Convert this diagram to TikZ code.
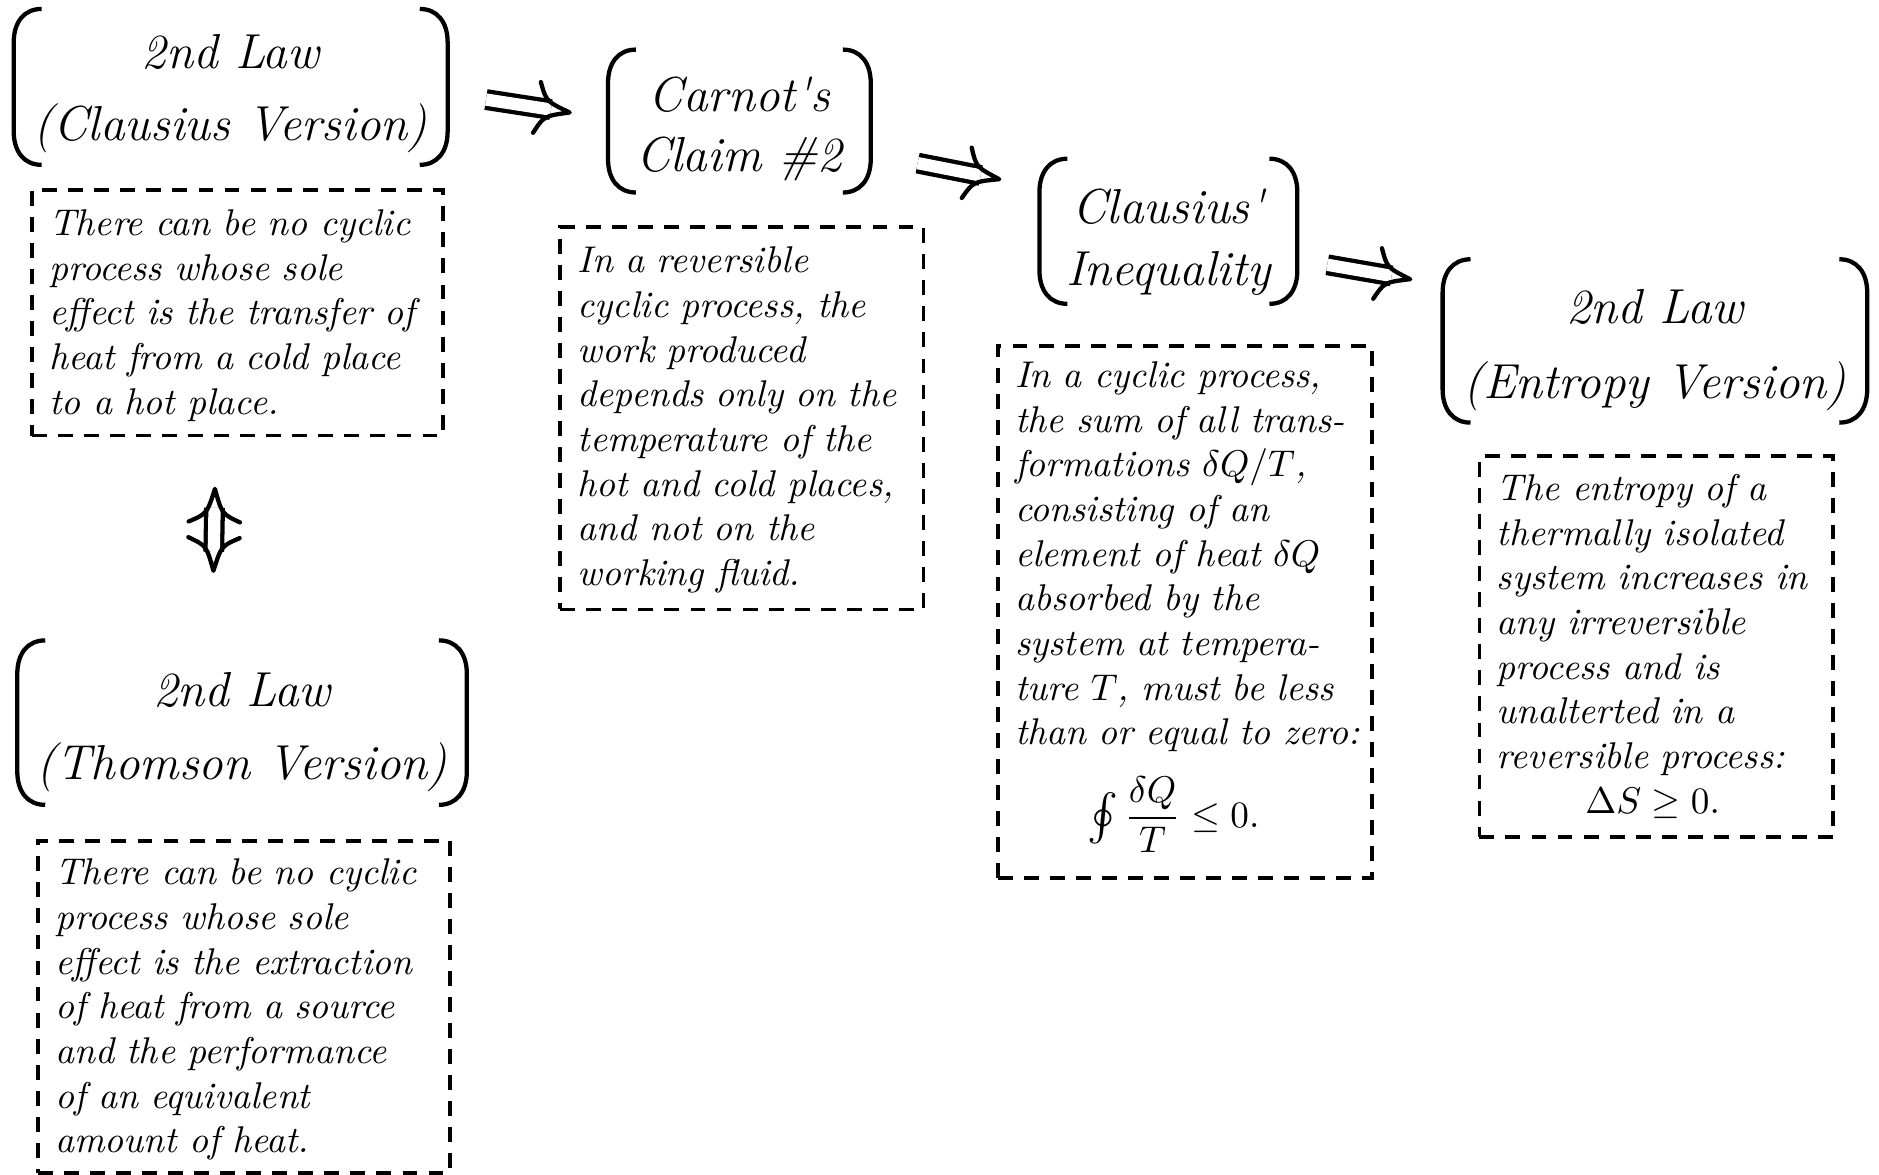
\documentclass[tikz,border=0pt]{standalone}
\usepackage{graphicx}
\usetikzlibrary{calc}

% Round brackets drawn around a header node, using its corner anchors
\newcommand\drawparens[1]{%
  \draw[paren]
    ([xshift=7.5pt]#1.north west)
      .. controls ([xshift=2.8pt]#1.north west) and ([yshift=-3.5pt]#1.north west) ..
    ([yshift=-9pt]#1.north west) -- ([yshift=9pt]#1.south west)
      .. controls ([yshift=3.5pt]#1.south west) and ([xshift=2.8pt]#1.south west) ..
    ([xshift=7.5pt]#1.south west);
  \draw[paren]
    ([xshift=-7.5pt]#1.north east)
      .. controls ([xshift=-2.8pt]#1.north east) and ([yshift=-3.5pt]#1.north east) ..
    ([yshift=-9pt]#1.north east) -- ([yshift=9pt]#1.south east)
      .. controls ([yshift=3.5pt]#1.south east) and ([xshift=-2.8pt]#1.south east) ..
    ([xshift=-7.5pt]#1.south east);
}
% curved double-arrow head at point #2, for a shaft coming from point #1
\newcommand\implhead[2]{%
  \path ($(#2)!8.9pt!(#1)$) coordinate (hdback)
        ($(#2)!6.7pt!(#1)$) coordinate (hdctrl);
  \draw[headline]
    ($(hdback)!6.9pt!90:(#2)$) .. controls ($(hdctrl)!2.0pt!90:(#2)$) .. (#2)
      .. controls ($(hdctrl)!2.0pt!-90:(#2)$) .. ($(hdback)!6.9pt!-90:(#2)$);
}
% implication from #1 to #2
\newcommand\implies[2]{%
  \draw[dbl] (#1) -- ($(#2)!5.1pt!(#1)$);
  \implhead{#1}{#2}
}
% equivalence between #1 and #2
\newcommand\equivto[2]{%
  \draw[dbl] ($(#1)!5.1pt!(#2)$) -- ($(#2)!5.1pt!(#1)$);
  \implhead{#2}{#1}
  \implhead{#1}{#2}
}
% invisible strut that lowers a two-line header inside its brackets
\newcommand\hdrstrut[1]{\rule{0pt}{#1}}
% a slightly enlarged contour integral
\newcommand\bigoint{\mathop{\vcenter{\hbox{\scalebox{1.25}{$\oint$}}}}}

\tikzset{
  hdr/.style={inner sep=0pt, align=center,
    font=\itshape\fontsize{13.2}{#1}\selectfont},
  paren/.style={line width=1.15pt},
  notebox/.style={draw, line width=1pt, dash pattern=on 4pt off 3pt,
    inner sep=0pt, anchor=north west},
  notetext/.style={inner sep=0pt, anchor=north west, align=left,
    text width=140pt, font=\itshape\fontsize{10}{12}\selectfont},
  dbl/.style={double, double distance=3.3pt, line width=1.15pt},
  headline/.style={line width=1.15pt, line join=round, line cap=round},
}

\begin{document}
\begin{tikzpicture}[x=0.322pt, y=-0.322pt]
\useasboundingbox (0,0) rectangle (1568,980);

% ---- headers ----
\node[hdr=19.3, minimum width=116.2pt, minimum height=41.5pt] (h1) at (192.5,72.5)
  {\hdrstrut{12.6pt}2nd Law\\(Clausius Version)};
\node[hdr=16.1, minimum width=70.2pt, minimum height=38.0pt] (h2) at (617,101)
  {\hdrstrut{13.6pt}Carnot\textquotesingle s\\Claim \#2};
\node[hdr=16.7, minimum width=68.9pt, minimum height=38.6pt] (h3) at (975,193)
  {\hdrstrut{15.2pt}Clausius\textquotesingle\\Inequality};
\node[hdr=20, minimum width=113.7pt, minimum height=43.5pt] (h4) at (1381,284.5)
  {\hdrstrut{14.2pt}2nd Law\\(Entropy Version)};
\node[hdr=19.6, minimum width=120.4pt, minimum height=43.8pt] (h5) at (202,603)
  {\hdrstrut{14.2pt}2nd Law\\(Thomson Version)};

\drawparens{h1}
\drawparens{h2}
\drawparens{h3}
\drawparens{h4}
\drawparens{h5}

% ---- statement frames ----
\node[notebox, minimum width=110.4pt, minimum height=66pt] (b1) at (25,157) {};
\node[notebox, minimum width=97.6pt, minimum height=102.7pt] (b2) at (466,188) {};
\node[notebox, minimum width=100.5pt, minimum height=143pt] (b3) at (831,287) {};
\node[notebox, minimum width=95pt, minimum height=102.4pt] (b4) at (1233,379) {};
\node[notebox, minimum width=110.8pt, minimum height=89.2pt] (b5) at (30,700) {};

% ---- statement texts ----
\node[notetext] (t1) at ([xshift=5pt,yshift=-5.6pt]b1.north west)
  {There can be no cyclic\\
   process whose sole\\
   effect is the transfer of\\
   heat from a cold place\\
   to a hot place.};

\node[notetext] (t2) at ([xshift=5pt,yshift=-5.6pt]b2.north west)
  {In a reversible\\
   cyclic process, the\\
   work produced\\
   depends only on the\\
   temperature of the\\
   hot and cold places,\\
   and not on the\\
   working fluid.};

\node[notetext] (t3) at ([xshift=5pt,yshift=-4.6pt]b3.north west)
  {In a cyclic process,\\
   the sum of all trans-\\
   formations $\delta Q/T$,\\
   consisting of an\\
   element of heat $\delta Q$\\
   absorbed by the\\
   system at tempera-\\
   ture $T$, must be less\\
   than or equal to zero:\\[5.5pt]
   \makebox[85pt][c]{$\bigoint{\displaystyle\frac{\delta Q}{T}}\leq 0.$}};

\node[notetext] (t4) at ([xshift=5pt,yshift=-5.2pt]b4.north west)
  {The entropy of a\\
   thermally isolated\\
   system increases in\\
   any irreversible\\
   process and is\\
   unalterted in a\\
   reversible process:\\
   \makebox[83.7pt][c]{$\Delta S\geq 0.$}};

\node[notetext] (t5) at ([xshift=5pt,yshift=-5.2pt]b5.north west)
  {There can be no cyclic\\
   process whose sole\\
   effect is the extraction\\
   of heat from a source\\
   and the performance\\
   of an equivalent\\
   amount of heat.};

% ---- implications ----
\coordinate (a1s) at ([xshift=10.3pt,yshift=-3.4pt]h1.east);
\coordinate (a1e) at ([xshift=-10.3pt,yshift=2.3pt]h2.west);
\coordinate (a2s) at ([xshift=12.6pt,yshift=-11.3pt]h2.east);
\coordinate (a2e) at ([xshift=-10.8pt,yshift=14pt]h3.west);
\coordinate (a3s) at ([xshift=8.05pt,yshift=-9pt]h3.east);
\coordinate (a3e) at ([xshift=-8.7pt,yshift=16.6pt]h4.west);
\coordinate (e1) at ([xshift=-6pt,yshift=-13.8pt]b1.south);
\coordinate (e2) at ([xshift=-7.7pt,yshift=18.7pt]h5.north);

\implies{a1s}{a1e}
\implies{a2s}{a2e}
\implies{a3s}{a3e}
\equivto{e1}{e2}
\end{tikzpicture}
\end{document}
